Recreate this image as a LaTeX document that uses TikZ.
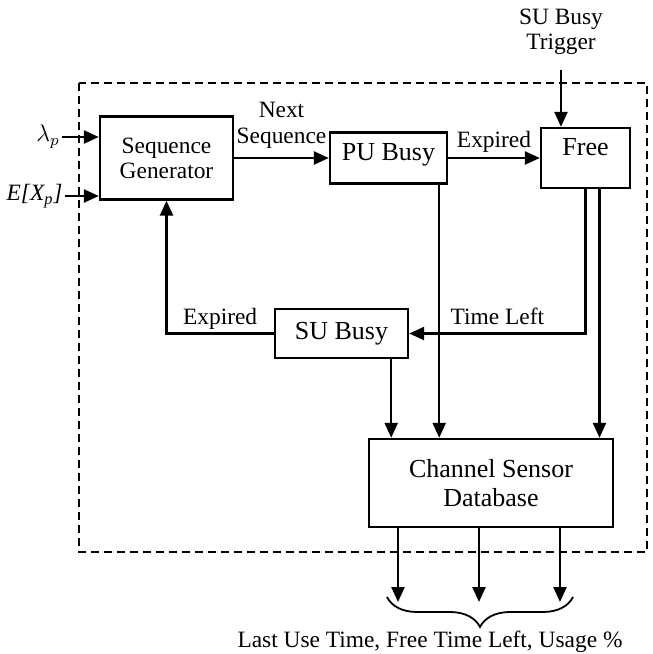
\documentclass[tikz,border=0pt]{standalone}
\usepackage{fontspec}
\setmainfont{Liberation Serif}
\usetikzlibrary{arrows.meta,decorations.pathreplacing}

\begin{document}
\begin{tikzpicture}[x=0.5pt,y=-0.5pt,font=\fontsize{11.7}{12.5}\selectfont,
    blk/.style={draw,line width=1.2pt,align=center,inner sep=0pt},
    big/.style={font=\fontsize{13}{14.5}\selectfont},
    lbl/.style={align=center,inner sep=1pt,text depth=3pt},
    arr/.style={line width=1.2pt,-{Triangle[length=7.5pt,width=6.5pt]}}]
  \useasboundingbox (0,0) rectangle (653,654);
  \draw[line width=1.2pt,dash pattern=on 4pt off 2.5pt] (79,83) rectangle (647,552);

  \node[blk,minimum width=66.5pt,minimum height=41.5pt] (seq) at (166.5,158) {Sequence\\Generator};
  \node[blk,big,minimum width=58.5pt,minimum height=25.5pt,text depth=6pt] (pu) at (388.5,158) {PU Busy};
  \node[blk,big,minimum width=44.5pt,minimum height=30pt,text depth=11pt] (free) at (585.5,158) {Free};
  \node[blk,big,minimum width=66.5pt,minimum height=24.5pt] (sub) at (341.5,333.5) {SU Busy};
  \node[blk,big,minimum width=122pt,minimum height=44pt] (csd) at (491,483) {Channel Sensor\\Database};

  \node[anchor=east,inner sep=1pt] (lam) at (62,137) {$\lambda_p$};
  \node[anchor=east,inner sep=1pt] (ex) at (65,196) {\textit{E[X\textsubscript{p}]}};
  \node[lbl] (trig) at (561,32) {SU Busy\\Trigger};
  \coordinate (o1) at (398,602); \coordinate (o2) at (479,602); \coordinate (o3) at (560,602);

  % inputs
  \draw[arr] (lam.east) -- (lam.east -| seq.west);
  \draw[arr] (ex.east) -- (ex.east -| seq.west);
  \draw[arr] ([yshift=-6pt]trig.south) -- (trig.south |- free.north);

  % state changes
  \draw[arr] (seq.east) -- node[lbl,above,yshift=2.5pt,font=\fontsize{11.7}{13}\selectfont] {Next\\Sequence} (pu.west);
  \draw[arr] (pu.east) -- node[lbl,above,yshift=0.5pt] {Expired} (pu.east -| free.west);
  \draw[arr] (free.south) |- node[lbl,above,pos=0.75,yshift=0pt] {Time Left} (sub.east);
  \draw[arr] (sub.west) -| node[lbl,above,pos=0.25,yshift=0pt] {Expired} (seq.south);

  % to database
  \draw[arr] ([xshift=-9pt]sub.south east) -- ([xshift=-9pt]sub.south east |- csd.north);
  \draw[arr] ([xshift=-4.5pt]pu.south east) -- ([xshift=-4.5pt]pu.south east |- csd.north);
  \draw[arr] ([xshift=7pt]free.south) -- ([xshift=7pt]free.south |- csd.north);

  % outputs
  \draw[arr] (csd.south -| o1) -- (o1);
  \draw[arr] (csd.south -| o2) -- (o2);
  \draw[arr] (csd.south -| o3) -- (o3);
  \draw[line width=0.9pt,decorate,decoration={brace,mirror,amplitude=15pt}] (387,597) -- (573,597);
  \node[lbl] (out) at (430,642) {Last Use Time, Free Time Left, Usage \%};
\end{tikzpicture}
\end{document}
